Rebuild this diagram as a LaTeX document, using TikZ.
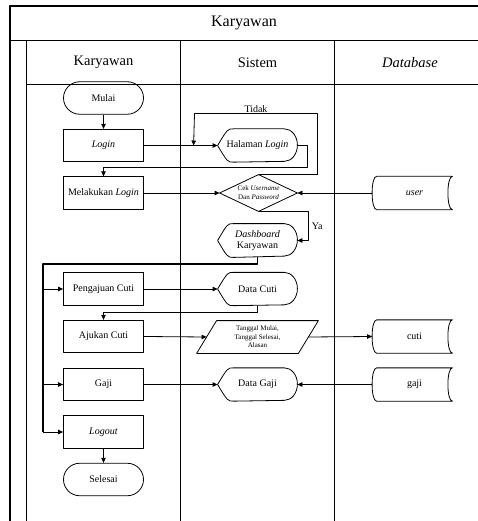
\documentclass[tikz,border=0pt]{standalone}
\usepackage{fontspec}
\setmainfont{Liberation Serif}
\usetikzlibrary{arrows.meta}
\begin{document}
\begin{tikzpicture}[x=1pt,y=-1pt,line join=round,>={Triangle[length=5pt,width=4.5pt]},line width=0.8pt,
	txt/.style={font=\fontsize{10}{11.5}\selectfont,align=center,inner sep=0pt},
	small/.style={font=\fontsize{7}{8.5}\selectfont,align=center,inner sep=0pt},
	proc/.style={txt,draw,minimum width=80pt,minimum height=32.5pt},
	term/.style={proc,rounded corners=16.25pt},
	shp/.style={txt,minimum width=79pt,minimum height=32.5pt},
	frame/.style={line width=1.1pt},
	bus/.style={line width=1.8pt}]
	\useasboundingbox (0,0) rectangle (478,521);
	\draw[frame] (10,521)--(10,6)--(478,6) (10,40.5)--(478,40.5) (26.5,84.5)--(478,84.5);
	\draw[frame] (26.5,40.5)--(26.5,521) (180.5,40.5)--(180.5,521) (334.5,40.5)--(334.5,521);
	\node[font=\fontsize{16}{19}\selectfont] (title) at (244,23) {Karyawan};
	\node[font=\fontsize{14.5}{17}\selectfont] (hkar) at (103.5,62.5) {Karyawan};
	\node[font=\fontsize{14.5}{17}\selectfont] (hsis) at (257.5,62.5) {Sistem};
	\node[font=\fontsize{14.5}{17}\selectfont] (hdb) at (410,62.5) {\textit{Database}};
	\node[term] (mulai) at (103.5,98) {Mulai};
	\node[proc] (login) at (103.5,145.5) {\textit{Login}};
	\node[proc] (melakukan) at (103.5,193) {Melakukan \textit{Login}};
	\node[proc] (pengajuan) at (103.5,289) {Pengajuan Cuti};
	\node[proc] (ajukan) at (103.5,336.5) {Ajukan Cuti};
	\node[proc] (gaji) at (103.5,384.5) {Gaji};
	\node[proc] (logout) at (103.5,432) {\textit{Logout}};
	\node[term] (selesai) at (103.5,479.5) {Selesai};
	\node[shp] (halaman) at (257.5,145.5) {Halaman \textit{Login}};
	\node[small,minimum width=77pt,minimum height=36pt,font=\fontsize{7}{9}\selectfont] (cek) at (258.5,193) {Cek \textit{Username}\\Dan \textit{Password}};
	\node[shp,minimum height=33pt] (dash) at (257.5,240.5) {\textit{Dashboard}\\Karyawan};
	\node[shp] (datacuti) at (257.5,289) {Data Cuti};
	\node[small,minimum width=101pt,minimum height=32pt] (tanggal) at (257.5,337) {Tanggal Mulai,\\Tanggal Selesai,\\Alasan};
	\node[shp] (datagaji) at (257.5,384.5) {Data Gaji};
	\node[shp,minimum width=75pt] (user) at (414.5,193) {\textit{user}};
	\node[shp,minimum width=75pt] (cuti) at (414.5,336.5) {cuti};
	\node[shp,minimum width=75pt] (gajidb) at (414.5,384.5) {gaji};
	\foreach \n in {halaman,dash,datacuti,datagaji}
		\draw (\n.west) .. controls ([xshift=10pt]\n.north west) .. ([xshift=16pt]\n.north west) -- ([xshift=-13pt]\n.north east)
			arc[start angle=90,end angle=-90,x radius=13pt,y radius=16.25pt] -- ([xshift=16pt]\n.south west)
			.. controls ([xshift=10pt]\n.south west) .. (\n.west);
	\foreach \n in {user,cuti,gajidb}
		\draw (\n.north west) -- (\n.north east) .. controls ([xshift=-6pt]\n.north east) and ([xshift=-6pt]\n.south east) .. (\n.south east)
			-- (\n.south west) .. controls ([xshift=-6pt]\n.south west) and ([xshift=-6pt]\n.north west) .. (\n.north west);
	\draw (cek.north) -- (cek.east) -- (cek.south) -- (cek.west) -- cycle;
	\draw ([xshift=10pt]tanggal.north west) -- ([xshift=10pt]tanggal.north east) -- ([xshift=-10pt]tanggal.south east) -- ([xshift=-10pt]tanggal.south west) -- cycle;
	\coordinate (tidakend) at ([xshift=-24pt]halaman.west);
	\coordinate (bus) at (43,432);
	\draw[->] (mulai) -- (login);
	\draw[->] (login.east) -- (halaman.west);
	\draw[->] (halaman.east) -- ++(10,0) -- ++(0,21.5) -| (melakukan.north);
	\draw[->] (cek.north) -- ++(59,0) -- ++(0,-61) -- node[above=1pt,txt] {Tidak} ++(-123,0) -- (tidakend);
	\draw[->] (melakukan.east) -- (cek.west);
	\draw[->] ([xshift=-4.5pt]user.west) -- (cek.east);
	\draw[->] (cek.south) -- ++(50,0) |- node[pos=0.25,right=3pt,txt] {Ya} (dash.east);
	\draw[bus] (dash.south) -- ++(0,6.5) -| (bus);
	\draw[->] (bus |- pengajuan) -- (pengajuan.west);
	\draw[->] (bus |- gaji) -- (gaji.west);
	\draw[->] (bus) -- (logout.west);
	\draw[->] (pengajuan.east) -- (datacuti.west);
	\draw[->] (datacuti.south) -- ++(0,7) -| (ajukan.north);
	\draw[->] (ajukan.east) -- (tanggal.west);
	\draw[->] (tanggal.east) -- ([xshift=-4.5pt]cuti.west);
	\draw[->] (gaji.east) -- (datagaji.west);
	\draw[->] ([xshift=-4.5pt]gajidb.west) -- (datagaji.east);
	\draw[->] (logout) -- (selesai);
\end{tikzpicture}
\end{document}
